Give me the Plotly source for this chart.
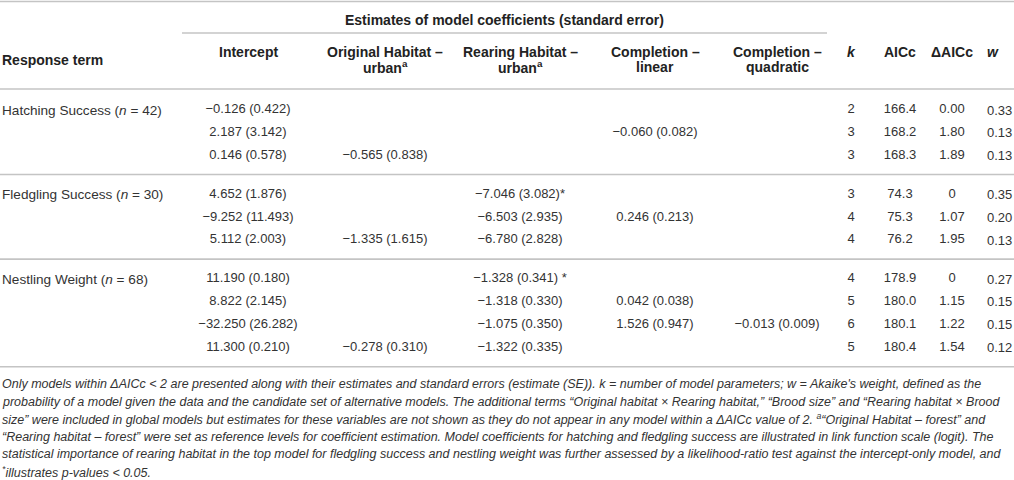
import plotly.graph_objects as go

# ---------------- data ----------------
response_terms = ["Hatching Success", "Fledgling Success", "Nestling Weight"]
sample_sizes = [42, 30, 68]
row_group = [0, 0, 0, 1, 1, 1, 2, 2, 2, 2]

intercept_est = [-0.126, 2.187, 0.146, 4.652, -9.252, 5.112, 11.190, 8.822, -32.250, 11.300]
intercept_se = [0.422, 3.142, 0.578, 1.876, 11.493, 2.003, 0.180, 2.145, 26.282, 0.210]
orig_est = [None, None, -0.565, None, None, -1.335, None, None, None, -0.278]
orig_se = [None, None, 0.838, None, None, 1.615, None, None, None, 0.310]
rear_est = [None, None, None, -7.046, -6.503, -6.780, -1.328, -1.318, -1.075, -1.322]
rear_se = [None, None, None, 3.082, 2.935, 2.828, 0.341, 0.330, 0.350, 0.335]
rear_sig = ["", "", "", "*", "", "", " *", "", "", ""]
lin_est = [None, -0.060, None, None, 0.246, None, None, 0.042, 1.526, None]
lin_se = [None, 0.082, None, None, 0.213, None, None, 0.038, 0.947, None]
quad_est = [None, None, None, None, None, None, None, None, -0.013, None]
quad_se = [None, None, None, None, None, None, None, None, 0.009, None]
k_vals = [2, 3, 3, 3, 4, 4, 4, 5, 6, 5]
aicc_vals = [166.4, 168.2, 168.3, 74.3, 75.3, 76.2, 178.9, 180.0, 180.1, 180.4]
delta_aicc = ["0.00", "1.80", "1.89", "0", "1.07", "1.95", "0", "1.15", "1.22", "1.54"]
weights = [0.33, 0.13, 0.13, 0.35, 0.20, 0.13, 0.27, 0.15, 0.15, 0.12]

group_title = "Estimates of model coefficients (standard error)"
col_headers = [
    ("Intercept", ""),
    ("Original Habitat –", "urban<sup>a</sup>"),
    ("Rearing Habitat –", "urban<sup>a</sup>"),
    ("Completion –", "linear"),
    ("Completion –", "quadratic"),
    ("<i>k</i>", ""),
    ("AICc", ""),
    ("ΔAICc", ""),
]
footnote_lines = [
    "Only models within ΔAICc < 2 are presented along with their estimates and standard errors (estimate (SE)). k = number of model parameters; w = Akaike's weight, defined as the",
    "probability of a model given the data and the candidate set of alternative models. The additional terms “Original habitat × Rearing habitat,” “Brood size” and “Rearing habitat × Brood",
    "size” were included in global models but estimates for these variables are not shown as they do not appear in any model within a ΔAICc value of 2. <sup>a</sup>“Original Habitat – forest” and",
    "“Rearing habitat – forest” were set as reference levels for coefficient estimation. Model coefficients for hatching and fledgling success are illustrated in link function scale (logit). The",
    "statistical importance of rearing habitat in the top model for fledgling success and nestling weight was further assessed by a likelihood-ratio test against the intercept-only model, and",
    "<sup>*</sup>illustrates p-values < 0.05.",
]

# ---------------- layout constants ----------------
W, H = 1014, 480
FONT = "Liberation Sans, Arial, Helvetica, sans-serif"
TXT = "#333333"
HDR = "#222222"
LINE = "#c4c4c4"
SZ = 13
LSZ = 13.6
HSZ = 14
FSZ = 12.5
col_x = [248, 385, 520, 655, 777, 851, 900, 952]
w_left = 986
row0, row_step, group_gap = 110, 22.7, 16.5


def fmt(v):
    return f"{v:.3f}".replace("-", "−")


def cell(est, se, sig=None):
    out = []
    for i, (e, s) in enumerate(zip(est, se)):
        if e is None:
            out.append("")
        else:
            out.append(f"{fmt(e)} ({fmt(s)}){sig[i] if sig else ''}")
    return out


row_y = [row0 + row_step * i + group_gap * g for i, g in enumerate(row_group)]

fig = go.Figure()

columns = [
    cell(intercept_est, intercept_se),
    cell(orig_est, orig_se),
    cell(rear_est, rear_se, rear_sig),
    cell(lin_est, lin_se),
    cell(quad_est, quad_se),
    [str(k) for k in k_vals],
    [f"{a:.1f}" for a in aicc_vals],
    delta_aicc,
]
for cx, texts in zip(col_x, columns):
    keep = [(y, t) for y, t in zip(row_y, texts) if t]
    fig.add_trace(go.Scatter(
        x=[cx] * len(keep), y=[k[0] for k in keep], text=[k[1] for k in keep],
        mode="text", textposition="middle center",
        textfont=dict(family=FONT, size=SZ, color=TXT),
        hoverinfo="skip", showlegend=False,
    ))

annotations = []


def ann(x, y, text, anchor="left", size=SZ, color=TXT):
    annotations.append(dict(
        x=x, y=y, xref="x", yref="y", text=text, showarrow=False,
        xanchor=anchor, yanchor="middle", align=anchor,
        font=dict(family=FONT, size=size, color=color), borderpad=0,
    ))


# w column (left aligned)
for y, wv in zip(row_y, weights):
    ann(w_left, y, f"{wv:.2f}")

# response terms
first_rows = [row_group.index(g) for g in range(len(response_terms))]
for name, n, ri in zip(response_terms, sample_sizes, first_rows):
    ann(1, row_y[ri], f"{name} (<i>n</i> = {n})", size=LSZ)

# header
ann(504, 20, f"<b>{group_title}</b>", anchor="center", size=HSZ, color=HDR)
ann(1, 60, "<b>Response term</b>", size=HSZ, color=HDR)
for cx, (l1, l2) in zip(col_x, col_headers):
    ann(cx, 52, f"<b>{l1}</b>", anchor="center", size=HSZ, color=HDR)
    if l2:
        ann(cx, 67, f"<b>{l2}</b>", anchor="center", size=HSZ, color=HDR)
ann(w_left, 52, "<b><i>w</i></b>", size=HSZ, color=HDR)

# footnote
for j, line in enumerate(footnote_lines):
    ann(1, 384 + 17.6 * j, f"<i>{line}</i>", size=FSZ)

# rules
last_rows = [max(i for i, g in enumerate(row_group) if g == k) for k in range(3)]
shapes = [
    dict(type="line", x0=0, x1=W, y0=1.5, y1=1.5),
    dict(type="line", x0=182, x1=827, y0=33, y1=33),
    dict(type="line", x0=0, x1=W, y0=89, y1=89),
]
for k in range(3):
    if k < 2:
        yl = (row_y[last_rows[k]] + row_y[first_rows[k + 1]]) / 2 - 0.5
    else:
        yl = row_y[last_rows[k]] + 19.5
    shapes.append(dict(type="line", x0=0, x1=W, y0=yl, y1=yl))
for s in shapes:
    s.update(xref="x", yref="y", line=dict(color=LINE, width=1.6), layer="above")

fig.update_layout(
    width=W, height=H, margin=dict(l=0, r=0, t=0, b=0),
    paper_bgcolor="white", plot_bgcolor="white",
    xaxis=dict(range=[0, W], visible=False, fixedrange=True),
    yaxis=dict(range=[H, 0], visible=False, fixedrange=True),
    annotations=annotations, shapes=shapes, showlegend=False,
)
fig.write_html(
    "out.html",
    config={"displayModeBar": False},
    post_script="document.body.style.margin='0';document.body.style.overflow='hidden';",
)
